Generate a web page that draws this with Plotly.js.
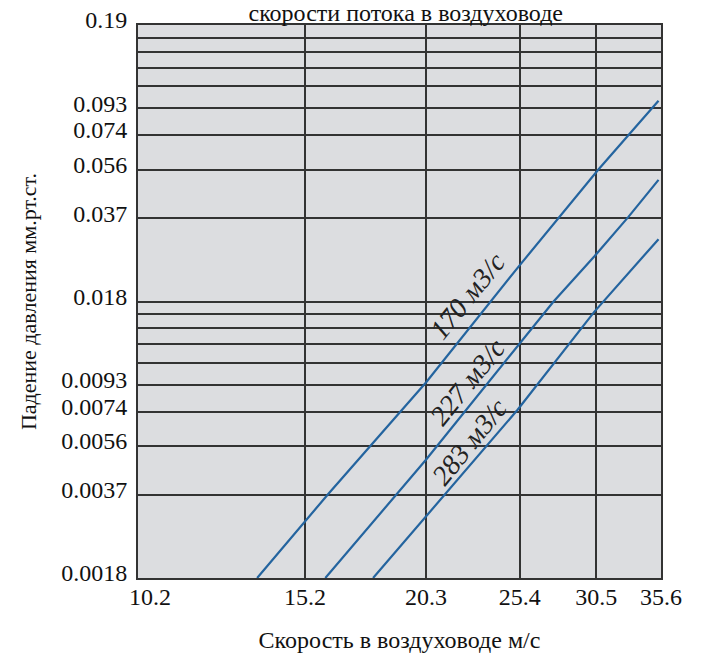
<!DOCTYPE html>
<html>
<head>
<meta charset="utf-8">
<script src="https://cdn.plot.ly/plotly-3.0.1.min.js"></script>
<style>html,body{margin:0;padding:0;background:#fff;}#chart{width:702px;height:658px;}</style>
</head>
<body>
<div id="chart"></div>
<script>
// Velocity in duct, m/s
const xTickVals = [10.2, 15.2, 20.3, 25.4, 30.5, 35.6];
const xTickText = ['\u00a0\u00a0\u00a0\u00a010.2', '15.2', '20.3', '25.4', '30.5', '35.6'];

// Pressure drop, mm Hg (grid lines at 1..9 x 0.001868 and 1..10 x 0.01868)
const yTickVals = [0.001868, 0.003736, 0.005604, 0.007472, 0.00934, 0.011208, 0.013076, 0.014944, 0.016812,
                   0.01868, 0.03736, 0.05604, 0.07472, 0.0934, 0.11208, 0.13076, 0.14944, 0.16812, 0.1868];
const yTickText = ['0.0018', '0.0037', '0.0056', '0.0074', '0.0093', '', '', '', '',
                   '0.018', '0.037', '0.056', '0.074', '0.093', '', '', '', '', '0.19'];

// Series
const flowLabels = ['170 м3/с', '227 м3/с', '283 м3/с'];
const v170 = [13.56, 16.08, 20.30, 25.33, 30.67, 35.39];
const p170 = [0.001868, 0.003768, 0.009515, 0.02498, 0.05622, 0.09948];
const v227 = [15.96, 18.94, 20.30, 27.54, 30.35, 32.95, 35.39];
const p227 = [0.001868, 0.003758, 0.005000, 0.01867, 0.02716, 0.03788, 0.05141];
const v283 = [17.89, 21.26, 25.27, 30.35, 35.39];
const p283 = [0.001868, 0.003758, 0.007582, 0.01714, 0.03139];

const lineColor = '#24649f';
const serif = 'Liberation Serif, Times New Roman, serif';

const traces = [[v170, p170], [v227, p227], [v283, p283]].map((s, i) => ({
  type: 'scatter', mode: 'lines', x: s[0], y: s[1], name: flowLabels[i],
  line: {color: lineColor, width: 2.2}, hoverinfo: 'skip'
}));

// label centres (log10 coordinates)
const labelPos = [[1.3510, -1.7082], [1.3510, -2.0191], [1.3530, -2.2360]];

const layout = {
  width: 702, height: 658,
  margin: {l: 138, r: 41, t: 25, b: 80},
  paper_bgcolor: '#ffffff',
  plot_bgcolor: '#dcdde0',
  showlegend: false,
  title: {
    text: 'скорости потока в воздуховоде',
    font: {family: serif, size: 24, color: '#111'},
    x: 0.578, xref: 'container', xanchor: 'center',
    y: 0.981, yref: 'container', yanchor: 'middle'
  },
  xaxis: {
    type: 'log',
    range: [Math.log10(10.2), Math.log10(35.6)],
    tickmode: 'array', tickvals: xTickVals, ticktext: xTickText,
    showgrid: true, gridcolor: '#333333', gridwidth: 2,
    showline: true, linecolor: '#333333', linewidth: 2, mirror: true,
    zeroline: false, ticks: '',
    ticklabelstandoff: -4,
    tickfont: {family: serif, size: 24, color: '#111'},
    title: {text: 'Скорость в воздуховоде м/с', font: {family: serif, size: 24, color: '#111'}, standoff: 22}
  },
  yaxis: {
    type: 'log',
    range: [Math.log10(0.001868), Math.log10(0.1868)],
    tickmode: 'array', tickvals: yTickVals, ticktext: yTickText,
    showgrid: true, gridcolor: '#333333', gridwidth: 2,
    showline: true, linecolor: '#333333', linewidth: 2, mirror: true,
    zeroline: false, ticks: '',
    ticklabelstandoff: 4,
    ticklabelshift: -5,
    tickfont: {family: serif, size: 24, color: '#111'},
    title: {text: 'Падение давления мм.рт.ст.', font: {family: serif, size: 22, color: '#111'}, standoff: 19}
  },
  annotations: flowLabels.map((t, i) => ({
    text: t, x: labelPos[i][0], y: labelPos[i][1], xref: 'x', yref: 'y',
    showarrow: false, textangle: -51, xanchor: 'center', yanchor: 'middle',
    font: {family: serif, size: 28, style: 'italic', color: '#222'}
  }))
};

Plotly.newPlot('chart', traces, layout, {staticPlot: true, displayModeBar: false});
</script>
</body>
</html>
